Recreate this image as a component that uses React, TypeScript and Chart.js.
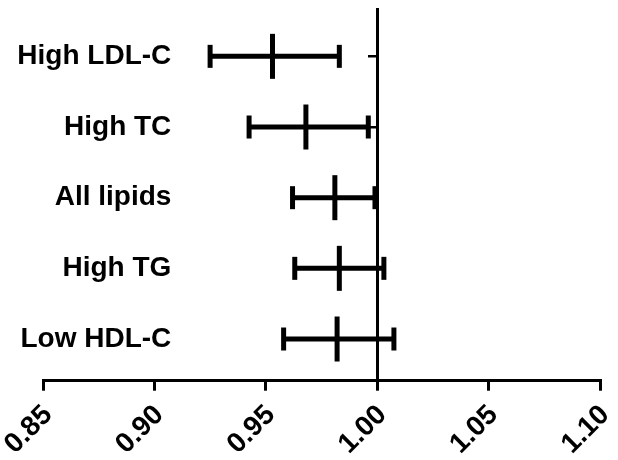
import React, { useEffect, useRef } from "react";
import { Chart, registerables } from "chart.js";

Chart.register(...registerables);

const categories = ["High LDL-C", "High TC", "All lipids", "High TG", "Low HDL-C"];
const estimates = [0.953, 0.968, 0.981, 0.983, 0.982];
const lower = [0.925, 0.9425, 0.962, 0.963, 0.958];
const upper = [0.983, 0.996, 0.999, 1.003, 1.0075];
const xTicks = [0.85, 0.9, 0.95, 1.0, 1.05, 1.1];

const FONT = "'Liberation Sans', Arial, sans-serif";

export default function App() {
  const ref = useRef<HTMLCanvasElement | null>(null);

  useEffect(() => {
    if (!ref.current) return;
    const catTicks = (scale: any) => {
      scale.ticks = categories.map((_, i) => ({ value: i }));
    };
    const noPad = (scale: any) => {
      scale.paddingTop = 0;
      scale.paddingBottom = 0;
      scale.paddingLeft = 0;
      scale.paddingRight = 0;
    };
    const rangeSets = categories.map((c, i) => ({
      type: "line" as const,
      label: c,
      data: [
        { x: lower[i], y: i },
        { x: upper[i], y: i },
      ],
      borderColor: "#000",
      borderWidth: 5,
      pointStyle: "line" as const,
      pointRotation: 90,
      pointRadius: 11.5,
      pointHoverRadius: 11.5,
      pointBorderWidth: 5,
      pointBorderColor: "#000",
      pointBackgroundColor: "#000",
      yAxisID: "y",
      xAxisID: "x",
      clip: false as any,
    }));
    const centerSet = {
      type: "scatter" as const,
      label: "estimate",
      data: estimates.map((v, i) => ({ x: v, y: i })),
      showLine: false,
      pointStyle: "line" as const,
      pointRotation: 90,
      pointRadius: 22.5,
      pointHoverRadius: 22.5,
      pointBorderWidth: 5,
      pointBorderColor: "#000",
      pointBackgroundColor: "#000",
      yAxisID: "y",
      xAxisID: "x",
      clip: false as any,
    };

    const chart = new Chart(ref.current, {
      type: "line",
      data: { datasets: [...rangeSets, centerSet] as any },
      options: {
        animation: false,
        responsive: true,
        maintainAspectRatio: false,
        layout: { autoPadding: false, padding: { top: 9, right: 0, left: 0, bottom: -9 } },
        plugins: { legend: { display: false }, tooltip: { enabled: false } },
        events: [],
        scales: {
          x: {
            type: "linear",
            min: 0.85,
            max: 1.1,
            afterBuildTicks: (scale: any) => {
              scale.ticks = xTicks.map((v) => ({ value: v }));
            },
            afterFit: (scale: any) => {
              scale.paddingLeft = 43;
              scale.paddingRight = 18;
            },
            ticks: {
              callback: (v: any) => Number(v).toFixed(2),
              color: "#000",
              font: { family: FONT, size: 28, weight: "bold" },
              maxRotation: 45,
              minRotation: 45,
              padding: 8,
              labelOffset: 5,
            },
            grid: {
              drawOnChartArea: false,
              drawTicks: true,
              tickLength: 10,
              color: "#000",
              lineWidth: 3,
            },
            border: { display: true, color: "#000", width: 3 },
          },
          y: {
            type: "linear",
            axis: "y",
            min: -0.67,
            max: 4.59,
            reverse: true,
            position: { x: 1.0 } as any,
            afterBuildTicks: catTicks,
            afterFit: noPad,
            ticks: { display: false },
            grid: {
              drawOnChartArea: false,
              drawTicks: true,
              tickLength: 8,
              color: "#000",
              lineWidth: 2.5,
            },
            border: { display: true, color: "#000", width: 3 },
          },
          yl: {
            type: "linear",
            axis: "y",
            min: -0.67,
            max: 4.59,
            reverse: true,
            position: { x: 0.9076 } as any,
            afterBuildTicks: catTicks,
            afterFit: noPad,
            ticks: {
              callback: (v: any) => categories[Number(v)] ?? "",
              color: "#000",
              font: { family: FONT, size: 28, weight: "bold" },
              padding: 0,
            },
            grid: { display: false, drawTicks: false },
            border: { display: false },
          },
        } as any,
      },
    });
    return () => chart.destroy();
  }, []);

  return (
    <div style={{ position: "fixed", left: 0, top: 0, width: 618, height: 460, background: "#fff" }}>
      <canvas ref={ref} />
    </div>
  );
}
